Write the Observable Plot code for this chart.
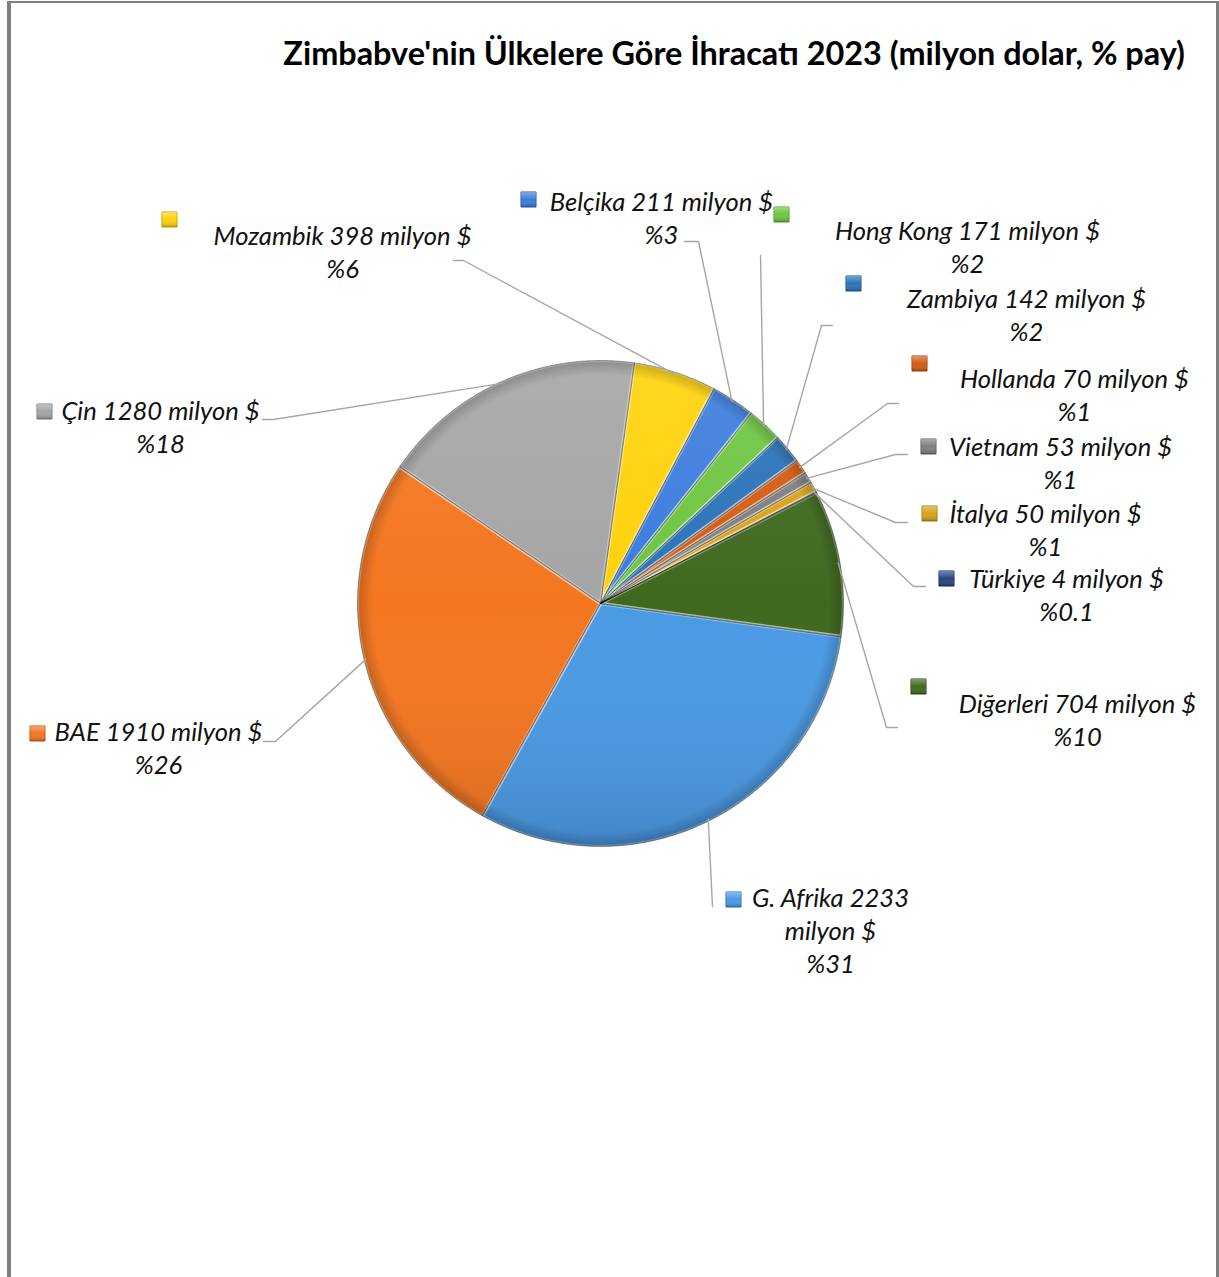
<!DOCTYPE html>
<html>
<head>
<meta charset="utf-8">
<script src="https://cdn.jsdelivr.net/npm/d3@7"></script>
<script src="https://cdn.jsdelivr.net/npm/@observablehq/plot@0.6"></script>
<style>
  html, body { margin: 0; padding: 0; background: #fff; }
  #wrap { position: relative; width: 1219px; height: 1277px; overflow: hidden; background: #fff; }
  #frame { position: absolute; left: 7px; top: 1px; width: 1212px; height: 1300px; box-sizing: border-box;
           border-left: 4px solid #7f7f7f; border-top: 2px solid #7f7f7f; border-right: 3px solid #7f7f7f; }
  #chart { position: absolute; left: 0; top: 0; }
  #title { position: absolute; right: 34px; top: 37px; font-family: Lato, sans-serif; font-weight: bold;
           font-size: 32.4px; line-height: 32px; color: #000; white-space: nowrap; }
</style>
</head>
<body>
<div id="wrap">
  <div id="frame"></div>
  <div id="chart"></div>
  <div id="title">Zimbabve'nin Ülkelere Göre İhracatı 2023 (milyon dolar, % pay)</div>
</div>
<script>
// ---- data ----
const countries = ["Mozambik", "Belçika", "Hong Kong", "Zambiya", "Hollanda", "Vietnam", "İtalya", "Türkiye", "Diğerleri", "G. Afrika", "BAE", "Çin"];
const values    = [398, 211, 171, 142, 70, 53, 50, 4, 704, 2233, 1910, 1280];
const shares    = ["%6", "%3", "%2", "%2", "%1", "%1", "%1", "%0.1", "%10", "%31", "%26", "%18"];
const unit      = "milyon $";

// ---- styles ----
const sliceColors = ["#ffd20a", "#3b7ddd", "#6ec641", "#2b73b9", "#d35c13", "#7f7f7f", "#d9a21b", "#27467f", "#40691f", "#4a9ae4", "#f47620", "#a5a5a5"];

// ---- layout (label placement, px) ----
// text: center x and first-line baseline; marker: key square centre; lead: label-side end of leader + elbow
const labelLayout = [
  {tx: 342,  ty: 244, wrap: false, mx: 169, my: 219, lead: [[453, 260], [463, 260]]},
  {tx: 661,  ty: 210, wrap: false, mx: 528, my: 199, lead: [[684, 241], [698, 241]]},
  {tx: 967,  ty: 239, wrap: false, mx: 781, my: 214, lead: [[760, 255]]},
  {tx: 1026, ty: 307, wrap: false, mx: 853, my: 283, lead: [[832, 325], [821, 325]]},
  {tx: 1074, ty: 387, wrap: false, mx: 919, my: 363, lead: [[898, 403], [887, 403]]},
  {tx: 1060, ty: 455, wrap: false, mx: 928, my: 446, lead: [[907, 454], [895, 454]]},
  {tx: 1045, ty: 522, wrap: false, mx: 929, my: 513, lead: [[907, 522], [895, 522]]},
  {tx: 1066, ty: 587, wrap: false, mx: 946, my: 578, lead: [[925, 586], [913, 586]]},
  {tx: 1077, ty: 712, wrap: false, mx: 918, my: 686, lead: [[897, 727], [886, 727]]},
  {tx: 830,  ty: 906, wrap: true,  mx: 733, my: 899, lead: [[712, 906]]},
  {tx: 158,  ty: 740, wrap: false, mx: 37,  my: 733, lead: [[263, 741], [275, 741]]},
  {tx: 160,  ty: 419, wrap: false, mx: 44,  my: 411, lead: [[262, 419], [273, 419]]}
];

const W = 1219, H = 1277;
const cx = 600, cy = 603, R = 243, startDeg = 8;
const fontSize = 25.6, lineGap = 33;

const data = countries.map((name, i) => ({name, value: values[i], share: shares[i], color: sliceColors[i], ...labelLayout[i]}));

const arcs = d3.pie().sort(null).value(d => d.value)
  .startAngle(startDeg * Math.PI / 180)
  .endAngle((startDeg + 360) * Math.PI / 180)(data);

const polar = (a, r) => [cx + r * Math.sin(a), cy - r * Math.cos(a)];

// slice polygons
const slicePts = arcs.flatMap(a => {
  const n = Math.max(2, Math.ceil((a.endAngle - a.startAngle) / (Math.PI / 360)));
  const pts = [{name: a.data.name, color: a.data.color, x: cx, y: cy}];
  for (let k = 0; k <= n; ++k) {
    const [x, y] = polar(a.startAngle + (a.endAngle - a.startAngle) * k / n, R);
    pts.push({name: a.data.name, color: a.data.color, x, y});
  }
  return pts;
});

// leader lines: label end -> elbow -> slice edge at mid-angle
const leaderPts = arcs.flatMap(a => {
  const mid = (a.startAngle + a.endAngle) / 2;
  const [ex, ey] = polar(mid, R - 2);
  return [...a.data.lead.map(([x, y]) => ({name: a.data.name, x, y})), {name: a.data.name, x: ex, y: ey}];
});

// label texts
const labels = data.map(d => {
  const lines = d.wrap
    ? [`${d.name} ${d.value}`, unit, d.share]
    : [`${d.name} ${d.value} ${unit}`, d.share];
  return {text: lines.join("\n"), x: d.tx, y: d.ty + (lines.length - 1) * lineGap};
});

const darker = c => d3.color(c).darker(0.6).formatHex();

const defs = () => {
  const ns = "http://www.w3.org/2000/svg";
  const g = document.createElementNS(ns, "defs");
  g.innerHTML = `
    <linearGradient id="shade" x1="0" y1="0" x2="0" y2="1">
      <stop offset="0" stop-color="#ffffff" stop-opacity="0.10"/>
      <stop offset="0.5" stop-color="#ffffff" stop-opacity="0"/>
      <stop offset="1" stop-color="#000000" stop-opacity="0.12"/>
    </linearGradient>
    <radialGradient id="rim" cx="0.5" cy="0.5" r="0.5">
      <stop offset="0.94" stop-color="#000" stop-opacity="0"/>
      <stop offset="1" stop-color="#000" stop-opacity="0.2"/>
    </radialGradient>
    <linearGradient id="keyshade" x1="0" y1="0" x2="0" y2="1">
      <stop offset="0" stop-color="#ffffff" stop-opacity="0.35"/>
      <stop offset="0.5" stop-color="#ffffff" stop-opacity="0"/>
      <stop offset="1" stop-color="#000000" stop-opacity="0.25"/>
    </linearGradient>`;
  return g;
};

const chart = Plot.plot({
  width: W, height: H,
  margin: 0,
  x: {domain: [0, W], range: [0, W], axis: null},
  y: {domain: [0, H], range: [0, H], axis: null},
  color: {type: "identity"},
  marks: [
    defs,
    Plot.line(slicePts, {x: "x", y: "y", z: "name", fill: "color", stroke: "rgba(255,255,255,0.35)", strokeWidth: 3.5, strokeLinejoin: "round", curve: "linear-closed"}),
    Plot.line(slicePts, {x: "x", y: "y", z: "name", fill: null, stroke: "rgba(0,0,0,0.35)", strokeWidth: 0.9, curve: "linear-closed"}),
    Plot.dot([{x: cx, y: cy}], {x: "x", y: "y", r: R, fill: "url(#shade)", stroke: null}),
    Plot.dot([{x: cx, y: cy}], {x: "x", y: "y", r: R, fill: "url(#rim)", stroke: null}),
    Plot.line(leaderPts, {x: "x", y: "y", z: "name", stroke: "#a6a6a6", strokeWidth: 1.4}),
    Plot.dot(data, {x: "mx", y: "my", symbol: "square", r: 8.5, fill: "color", stroke: d => darker(d.color), strokeWidth: 1}),
    Plot.dot(data, {x: "mx", y: "my", symbol: "square", r: 8.5, fill: "url(#keyshade)", stroke: null}),
    Plot.text(labels, {x: "x", y: "y", text: "text", lineAnchor: "bottom", textAnchor: "middle",
      fontSize, lineHeight: lineGap / fontSize, fontStyle: "italic", fontFamily: "Lato, sans-serif", fill: "#111"})
  ]
});
document.getElementById("chart").appendChild(chart);
</script>
</body>
</html>
